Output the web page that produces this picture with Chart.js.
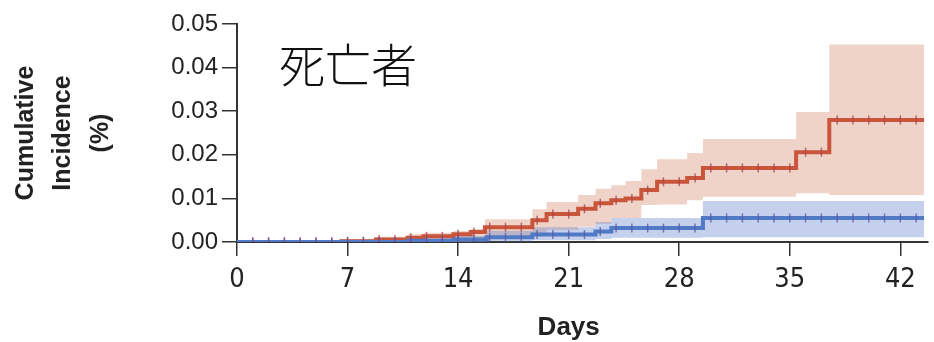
<!DOCTYPE html>
<html>
<head>
<meta charset="utf-8">
<script src="https://cdn.jsdelivr.net/npm/chart.js@4"></script>
<style>
  html, body { margin: 0; padding: 0; background: #fff; }
  #wrap { width: 934px; height: 342px; }
</style>
</head>
<body>
<div id="wrap"><canvas id="kmChart" width="934" height="342"></canvas></div>
<script>
// step days (value holds from that day onward) and cumulative incidence
const redDays  = [0, 6.6, 8.8, 10.8, 11.8, 13.7, 14.8, 15.7, 18.7, 19.6, 21.6, 22.7, 23.7, 24.6, 25.6, 26.6, 28.5, 29.5, 35.4, 37.5, 43.5];
const redEst   = [0, 0.0002, 0.0006, 0.001, 0.0013, 0.0018, 0.0023, 0.0034, 0.005, 0.0064, 0.0076, 0.0089, 0.0096, 0.0100, 0.0119, 0.0138, 0.0147, 0.0170, 0.0206, 0.0280, 0.0280];
const redUpper = [0, 0.0007, 0.0012, 0.0018, 0.0021, 0.0025, 0.0030, 0.0052, 0.0075, 0.0092, 0.0108, 0.0122, 0.0130, 0.0140, 0.0167, 0.0190, 0.0204, 0.0236, 0.0298, 0.0453, 0.0453];
const redLower = [0, 0, 0, 0, 0, 0, 0.0001, 0.0012, 0.0020, 0.0028, 0.0035, 0.0042, 0.0055, 0.0055, 0.0085, 0.0086, 0.0096, 0.0104, 0.0112, 0.0108, 0.0108];

const blueDays  = [0, 10.8, 13.7, 15.8, 18.7, 22.7, 23.7, 29.5, 43.5];
const blueEst   = [0, 0.0003, 0.0006, 0.0011, 0.0017, 0.0024, 0.0032, 0.0055, 0.0055];
const blueUpper = [0, 0.0008, 0.0014, 0.0026, 0.0034, 0.0046, 0.0055, 0.0094, 0.0094];
const blueLower = [0, 0, 0, 0.0001, 0.0004, 0.0007, 0.0010, 0.0011, 0.0011];

// censoring marks
const censorDays = [1, 2, 3, 4, 5, 6, 7, 8, 9, 10, 11, 12, 13, 14, 15, 16, 17, 18, 19, 20, 21, 22,
  23, 24, 25, 26, 27, 28, 29, 30, 31, 32, 33, 34, 35, 36, 37, 38, 39, 40, 41, 42, 43];

const xTicks = [0, 7, 14, 21, 28, 35, 42];
const yTicks = [0, 0.01, 0.02, 0.03, 0.04, 0.05];

function pts(days, vals) {
  return days.map((d, i) => ({ x: d, y: vals[i] }));
}

// value of a step curve at day d
function stepAt(days, vals, d) {
  let v = vals[0];
  for (let i = 0; i < days.length; i++) {
    if (days[i] <= d) v = vals[i];
  }
  return v;
}

function censorPts(days, vals) {
  return censorDays.map(d => ({ x: d, y: stepAt(days, vals, d) }));
}

const RED = "#c9553b";
const BLUE = "#5079c6";

const overlayText = {
  id: "overlayText",
  afterDraw(chart) {
    const { ctx, scales } = chart;
    ctx.save();
    ctx.fillStyle = "#111";
    ctx.font = "300 46px 'Noto Sans CJK JP'";
    ctx.textAlign = "left";
    ctx.textBaseline = "middle";
    ctx.fillText("死亡者", 279, 65);

    ctx.fillStyle = "#222";
    ctx.font = "bold 26px 'Liberation Sans'";
    ctx.textAlign = "center";
    ctx.fillText("Days", scales.x.getPixelForValue(21), 328);
    ctx.restore();
  }
};

const ctx = document.getElementById("kmChart").getContext("2d");
new Chart(ctx, {
  type: "line",
  data: {
    datasets: [
      { label: "red upper", data: pts(redDays, redUpper), stepped: true, borderWidth: 0,
        pointRadius: 0, fill: "+1", backgroundColor: "rgba(215,140,110,0.38)", order: 10 },
      { label: "red lower", data: pts(redDays, redLower), stepped: true, borderWidth: 0,
        pointRadius: 0, fill: false, order: 10 },
      { label: "blue upper", data: pts(blueDays, blueUpper), stepped: true, borderWidth: 0,
        pointRadius: 0, fill: "+1", backgroundColor: "rgba(90,120,200,0.35)", order: 9 },
      { label: "blue lower", data: pts(blueDays, blueLower), stepped: true, borderWidth: 0,
        pointRadius: 0, fill: false, order: 9 },
      { label: "red", data: pts(redDays, redEst), stepped: true, borderColor: RED, borderWidth: 4,
        pointRadius: 0, fill: false, order: 4 },
      { label: "blue", data: pts(blueDays, blueEst), stepped: true, borderColor: BLUE, borderWidth: 4,
        pointRadius: 0, fill: false, order: 3 },
      { label: "red censor", data: censorPts(redDays, redEst), showLine: false, pointStyle: "line",
        rotation: 90, pointRadius: 4.5, pointBorderWidth: 1.5, pointBorderColor: "rgba(170,70,80,0.8)", order: 2 },
      { label: "blue censor", data: censorPts(blueDays, blueEst), showLine: false, pointStyle: "line",
        rotation: 90, pointRadius: 4.5, pointBorderWidth: 1.5, pointBorderColor: "rgba(90,85,160,0.75)", order: 1 }
    ]
  },
  options: {
    responsive: false,
    animation: false,
    layout: { padding: { top: 24, right: 0, left: 0, bottom: 0 } },
    plugins: { legend: { display: false }, tooltip: { enabled: false } },
    scales: {
      x: {
        type: "linear",
        min: 0,
        max: 43.75,
        afterBuildTicks: (scale) => { scale.ticks = xTicks.map(v => ({ value: v })); },
        afterFit: (scale) => { scale.height = 100; },
        ticks: {
          color: "#222",
          padding: 8,
          maxRotation: 0,
          font: { family: "'Liberation Sans Narrow', 'DejaVu Sans Condensed'", size: 27 }
        },
        grid: { drawOnChartArea: false, drawTicks: true, tickLength: 14, color: "#333", lineWidth: 1.5 },
        border: { display: true, color: "#333", width: 2 }
      },
      y: {
        min: 0,
        max: 0.05,
        afterBuildTicks: (scale) => { scale.ticks = yTicks.map(v => ({ value: v })); },
        afterFit: (scale) => { scale.width = 237; },
        ticks: {
          color: "#222",
          padding: 4,
          callback: (v) => v.toFixed(2),
          font: { family: "'Liberation Sans'", size: 24 }
        },
        grid: { drawOnChartArea: false, drawTicks: true, tickLength: 15, color: "#333", lineWidth: 1.5 },
        border: { display: true, color: "#333", width: 2 },
        title: {
          display: true,
          text: ["Cumulative", "Incidence", "(%)"],
          color: "#222",
          padding: { top: 7, bottom: 0 },
          font: { family: "'Liberation Sans'", size: 25, weight: "bold", lineHeight: 1.5 }
        }
      }
    }
  },
  plugins: [overlayText]
});
</script>
</body>
</html>
